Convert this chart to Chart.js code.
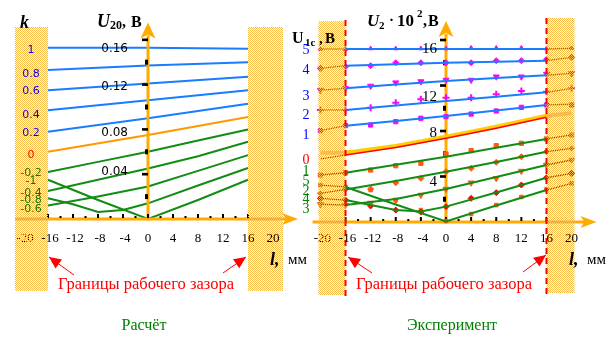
<!DOCTYPE html>
<html><head><meta charset="utf-8">
<script src="https://cdn.jsdelivr.net/npm/chart.js@4.4.1/dist/chart.umd.min.js"></script>
<style>
html,body{margin:0;padding:0;background:#fff;}
#wrap{position:relative;width:612px;height:345px;overflow:hidden;background:#fff;}
canvas{position:absolute;left:0;top:0;}
</style></head><body>
<div id="wrap"><canvas id="c1" width="612" height="345"></canvas><canvas id="c2" width="612" height="345"></canvas></div>
<script>
// ================= DATA =================
const xTicks = [-20,-16,-12,-8,-4,0,4,8,12,16,20];

// ---- left panel: calculation, U20 (V) vs l (mm) ----
const calcYTicks = [0.04, 0.08, 0.12, 0.16];
const calcYTickText = ['0.04','0.08','0.12','0.16'];
const calcK = ['1','0.8','0.6','0.4','0.2','0','-0.2','-1','-0.4','-0.8','-0.6'];
const X3 = [-16, 0, 16];
const X5 = [-16, -8, 0, 8, 16];
const X7 = [-16, -12, -8, -4, 0, 8, 16];
const calc_k1   = [0.153, 0.153, 0.152];
const calc_k08  = [0.133, 0.137, 0.140];
const calc_k06  = [0.115, 0.121, 0.127];
const calc_k04  = [0.097, 0.106, 0.115];
const calc_k02  = [0.078, 0.090, 0.103];
const calc_k0   = [0.060, 0.075, 0.091];
const calc_km02 = [0.042, 0.051, 0.060, 0.070, 0.080];
const calc_km04 = [0.025, 0.035, 0.045, 0.056, 0.069];
const calc_km06 = [0.012, 0.020, 0.029, 0.043, 0.057];
const calc_km08 = [0.0185, 0.0131, 0.0063, 0.0080, 0.0140, 0.0299, 0.0455];
const calc_km1  = [0.035, 0.017, 0.0, 0.017, 0.035];

// ---- right panel: experiment, U2*10^2 (V) vs l (mm) ----
const expYTicks = [4, 8, 12, 16];
const expYTickText = ['4','8','12','16'];
const expU1c = ['5','4','3','2','1','0','1','5','2','4','3'];
const RXL = [-20, -16, -8, 0, 8, 16, 20];
const RX4 = [-20, -16, -12, -8, -4, 0, 8, 16, 20];
const RXR = [-20, -16, -8, 0, 8, 16];
const exp_b5  = [15.21, 15.21, 15.21, 15.21, 15.21, 15.21, 15.27];
const exp_b4  = [13.51, 13.74, 13.87, 14.00, 14.09, 14.18, 14.48];
const exp_b3  = [11.60, 11.75, 12.08, 12.40, 12.65, 12.90, 13.07];
const exp_b2  = [9.85, 9.85, 10.25, 10.64, 11.02, 11.40, 11.75];
const exp_b1  = [8.03, 8.47, 8.88, 9.32, 9.80, 10.29, 10.35];
const exp_y0  = [6.09, 6.09, 6.68, 7.50, 8.38, 9.35, 9.56];
const exp_r0  = [5.54, 5.89, 6.55, 7.36, 8.25, 9.20];
const exp_g1  = [4.13, 4.33, 5.04, 5.74, 6.53, 7.30, 7.65];
const exp_g2  = [2.52, 2.86, 3.60, 4.42, 5.27, 6.18, 6.48];
const exp_g3  = [1.56, 1.49, 2.02, 2.90, 3.96, 5.01, 5.45];
const exp_g4  = [2.08, 1.93, 1.49, 1.05, 0.92, 1.35, 2.59, 3.89, 4.28];
const exp_g5  = [3.25, 3.08, 1.54, 0.05, 1.45, 2.81, 3.40];
// measured points at xTicks
const mk_b5 = [15.2, 15.2, 15.25, 15.25, 15.25, 15.25, 15.3, 15.3, 15.3, 15.25, 15.3];
const mk_b4 = [13.51, 13.65, 13.74, 14.0, 14.0, 14.0, 14.0, 14.18, 14.18, 14.3, 14.48];
const mk_b3 = [11.60, 11.75, 11.96, 12.25, 12.35, 12.48, 12.48, 12.77, 12.77, 13.01, 13.07];
const mk_b2 = [9.85, 9.85, 10.05, 10.49, 10.79, 10.93, 10.93, 11.23, 11.52, 11.45, 11.75];
const mk_b1 = [8.03, 8.47, 8.53, 8.82, 9.12, 9.26, 9.49, 9.76, 10.08, 10.29, 10.29];
const mk_g1 = [4.13, 4.33, 4.57, 4.95, 5.16, 5.98, 6.27, 6.71, 6.92, 7.30, 7.65];
const mk_g2 = [2.52, 2.90, 2.90, 3.45, 3.84, 4.42, 4.72, 5.25, 5.74, 6.18, 6.48];
const mk_g3 = [1.56, 1.49, 1.67, 1.93, 2.37, 2.90, 3.45, 3.84, 4.48, 5.01, 5.45];
const mk_g4 = [2.08, 1.93, 1.41, 1.05, 0.88, 1.35, 2.08, 2.58, 3.25, 3.89, 4.28];
const mk_g5 = [3.25, 3.08, 2.81, 1.93, 1.05, 0.09, 0.70, 1.49, 2.20, 2.87, 3.40];

// ---- texts ----
const gapText = 'Границы рабочего зазора';
const calcCaption = 'Расчёт';
const expCaption = 'Эксперимент';
const unitText = 'мм';

// ================= STYLE =================
const BLUE='#1a7cff', GREEN='#128c12', ORLINE='#ff9900', AXIS='#ffab00', MAG='#ff00ff',
      ORG='#ff5a14', RED='#ff0000', YEL='#ffcc00', BOXC='#f5bb4a';
const SERIF='"Liberation Serif","Times New Roman",serif';
const SANS='"DejaVu Sans","Liberation Sans",sans-serif';
const kLabelY = [50,74,91,115,133,155,173,181,193,200,209];
const u1cLabelY = [50,70,96,115,135,160,171,181,191,199,209];
const calcYLabDy = [-2, 3.5, 2.3, 9];
const expYLabDy = [5.5, 2, 12, 9.5];

function pts(xs, ys){ return xs.map((x,i)=>({x:x, y:ys[i]})); }
function lineDs(xs, ys, color, w){
  return {data: pts(xs,ys), borderColor: color, backgroundColor: color, borderWidth: w||2,
          pointRadius:0, fill:false, tension:0, clip:false};
}
function expLineDs(xs, ys, color, w, boxW){
  const d = lineDs(xs, ys, color, w);
  d.segment = {borderWidth: c => (c.p0.parsed.x < -16 || c.p1.parsed.x > 16) ? boxW : w};
  return d;
}
function mkDs(ys, style, color, r, rot, bw){
  return {data: pts(xTicks, ys), showLine:false, pointStyle: style, pointRadius: r,
          pointBackgroundColor: color, pointBorderColor: color, pointBorderWidth: bw||1,
          pointRotation: rot||0, clip:false};
}

function makePattern(ctx){
  const p = document.createElement('canvas'); p.width=2; p.height=2;
  const c = p.getContext('2d'); c.fillStyle=BOXC; c.fillRect(0,0,1,1); c.fillRect(1,1,1,1);
  return ctx.createPattern(p,'repeat');
}
function txt(ctx, s, x, y, font, color, align, base){
  ctx.font=font; ctx.fillStyle=color; ctx.textAlign=align||'left';
  ctx.textBaseline=base||'alphabetic'; ctx.fillText(s,x,y);
}
function arrowUp(ctx, x, yTip){
  ctx.beginPath(); ctx.moveTo(x,yTip); ctx.lineTo(x+7.5,yTip+16); ctx.lineTo(x,yTip+12);
  ctx.lineTo(x-7.5,yTip+16); ctx.closePath(); ctx.fill();
}
function arrowRight(ctx, xTip, y){
  ctx.beginPath(); ctx.moveTo(xTip,y); ctx.lineTo(xTip-16,y-6); ctx.lineTo(xTip-12,y);
  ctx.lineTo(xTip-16,y+6); ctx.closePath(); ctx.fill();
}
function redArrow(ctx, x1, y1, x2, y2){
  ctx.strokeStyle=RED; ctx.fillStyle=RED; ctx.lineWidth=1;
  ctx.beginPath(); ctx.moveTo(x1,y1); ctx.lineTo(x2,y2); ctx.stroke();
  const a=Math.atan2(y2-y1,x2-x1), L=12, W=5.5;
  const bx=x2-L*Math.cos(a), by=y2-L*Math.sin(a);
  ctx.beginPath(); ctx.moveTo(x2,y2);
  ctx.lineTo(bx+W*Math.sin(a), by-W*Math.cos(a));
  ctx.lineTo(bx-W*Math.sin(a), by+W*Math.cos(a)); ctx.closePath(); ctx.fill();
}
function drawAxes(ctx, sx, sy, dashTicks, tipVal){
  const x0=sx.getPixelForValue(0), y0=sy.getPixelForValue(0);
  const xl=sx.getPixelForValue(-16), xr=sx.getPixelForValue(16);
  ctx.strokeStyle=AXIS; ctx.fillStyle=AXIS; ctx.lineWidth=3;
  ctx.beginPath(); ctx.moveTo(xl-33,y0); ctx.lineTo(xr+42,y0); ctx.stroke();
  arrowRight(ctx, xr+50, y0);
  const yt=sy.getPixelForValue(tipVal);
  ctx.beginPath(); ctx.moveTo(x0,y0+1.5); ctx.lineTo(x0,yt+13); ctx.stroke();
  arrowUp(ctx, x0, yt);
  ctx.fillStyle='#000';
  dashTicks.forEach((v,i)=>{
    const py=sy.getPixelForValue(v);
    if(i%2===1) ctx.fillRect(x0-6,py-1.3,6,2.6); else ctx.fillRect(x0-3,py-2.5,3,5);
  });
  for(let m=-16;m<=16;m+=2){
    const px=sx.getPixelForValue(m);
    if(m%4===0) ctx.fillRect(px-1,y0-5,2,4); else ctx.fillRect(px-1,y0-3,2,2);
  }
}
function drawXLabels(ctx, sx, y, under){
  xTicks.forEach(v=>{
    if((v===-20)!==under) return;
    const px=sx.getPixelForValue(v)+(v<0?2:0);
    txt(ctx, String(v), px, y, '13px '+SERIF, '#000', 'center', 'middle');
  });
}
function drawBoxes(ctx, sx, topL, botL, topR, botR, wl, wr){
  const xl=sx.getPixelForValue(-16), xr=sx.getPixelForValue(16);
  ctx.fillStyle=makePattern(ctx);
  ctx.fillRect(xl-wl, topL, wl, botL-topL);
  ctx.fillRect(xr, topR, wr, botR-topR);
}

// ================= LEFT: calculation =================
const calcDecor = {
  id:'calcDecor',
  afterDatasetsDraw(chart){
    const ctx=chart.ctx, sx=chart.scales.x, sy=chart.scales.y;
    const x0=sx.getPixelForValue(0);
    ctx.save();
    drawAxes(ctx, sx, sy, [0.02,0.04,0.06,0.08,0.10,0.12,0.14,0.16], 0.1755);
    drawXLabels(ctx, sx, 239, true);
    drawBoxes(ctx, sx, 27, 291, 27, 291, 33, 35);
    drawXLabels(ctx, sx, 239, false);
    calcYTicks.forEach((v,i)=>{
      txt(ctx, calcYTickText[i], x0-20, sy.getPixelForValue(v)+calcYLabDy[i], '12px '+SANS, '#000', 'right', 'middle');
    });
    calcK.forEach((s,i)=>{
      const col = i<5 ? '#0000ff' : (i===5 ? RED : '#008000');
      txt(ctx, s, 31, kLabelY[i], '11px '+SANS, col, 'center', 'middle');
    });
    txt(ctx, 'k', 20, 28, 'bold italic 18px '+SERIF, '#000');
    txt(ctx, 'U', 97, 27, 'bold italic 18px '+SERIF, '#000');
    txt(ctx, '20', 110, 29, 'bold 12px '+SERIF, '#000');
    txt(ctx, ',', 122, 27, 'bold 16px '+SERIF, '#000');
    txt(ctx, 'В', 131, 27, 'bold 16px '+SERIF, '#000');
    txt(ctx, 'l,', 270, 265, 'bold italic 18px '+SERIF, '#000');
    txt(ctx, unitText, 288, 264, '15px '+SERIF, '#000');
    redArrow(ctx, 74, 275, 49, 257);
    redArrow(ctx, 223, 273, 246, 257);
    txt(ctx, gapText, 146, 289, '16.5px '+SERIF, RED, 'center');
    txt(ctx, calcCaption, 144, 330, '16px '+SERIF, '#008000', 'center');
    ctx.restore();
  }
};

new Chart(document.getElementById('c1'), {
  type:'line',
  data:{datasets:[
    lineDs(X3, calc_k1, BLUE), lineDs(X3, calc_k08, BLUE), lineDs(X3, calc_k06, BLUE),
    lineDs(X3, calc_k04, BLUE), lineDs(X3, calc_k02, BLUE), lineDs(X3, calc_k0, ORLINE),
    lineDs(X5, calc_km02, GREEN), lineDs(X5, calc_km04, GREEN), lineDs(X5, calc_km06, GREEN),
    lineDs(X7, calc_km08, GREEN), lineDs(X5, calc_km1, GREEN)
  ]},
  options:{
    responsive:false, animation:false, devicePixelRatio:1, events:[],
    layout:{padding:{left:23, right:339, top:17.4, bottom:126}},
    plugins:{legend:{display:false}, tooltip:{enabled:false}},
    scales:{
      x:{type:'linear', min:-20, max:20, display:false},
      y:{type:'linear', min:0, max:0.18, display:false}
    }
  },
  plugins:[calcDecor]
});

// ================= RIGHT: experiment =================
const expBefore = {
  id:'expBefore',
  beforeDatasetsDraw(chart){
    const ctx=chart.ctx, sx=chart.scales.x, sy=chart.scales.y;
    ctx.save();
    drawAxes(ctx, sx, sy, [2,4,6,8,10,12,14,16], 17.67);
    drawXLabels(ctx, sx, 239, true);
    ctx.restore();
  },
  afterDatasetsDraw(chart){
    const ctx=chart.ctx, sx=chart.scales.x, sy=chart.scales.y;
    const x0=sx.getPixelForValue(0);
    const xl=sx.getPixelForValue(-16), xr=sx.getPixelForValue(16);
    ctx.save();
    drawBoxes(ctx, sx, 21, 295, 18, 293, 27, 28);
    ctx.strokeStyle=RED; ctx.lineWidth=2; ctx.setLineDash([6,4]);
    ctx.beginPath(); ctx.moveTo(xl,20); ctx.lineTo(xl,300); ctx.stroke();
    ctx.beginPath(); ctx.moveTo(xr,18); ctx.lineTo(xr,298); ctx.stroke();
    ctx.setLineDash([]);
    drawXLabels(ctx, sx, 239, false);
    expYTicks.forEach((v,i)=>{
      txt(ctx, expYTickText[i], x0-9, sy.getPixelForValue(v)+expYLabDy[i], '15px '+SERIF, '#000', 'right', 'middle');
    });
    expU1c.forEach((s,i)=>{
      const col = i<5 ? '#0000ff' : (i===5 ? RED : '#008000');
      txt(ctx, s, 306, u1cLabelY[i], '14px '+SERIF, col, 'center', 'middle');
    });
    txt(ctx, 'U', 292, 43, 'bold 16px '+SERIF, '#000');
    txt(ctx, '1c', 305, 46, 'bold 11px '+SERIF, '#000');
    txt(ctx, ',', 319, 43, 'bold 15px '+SERIF, '#000');
    txt(ctx, 'В', 325, 43, 'bold 15px '+SERIF, '#000');
    txt(ctx, 'U', 367, 26, 'bold italic 17px '+SERIF, '#000');
    txt(ctx, '2', 379, 29, 'bold 11px '+SERIF, '#000');
    txt(ctx, '·', 389, 25, 'bold 15px '+SERIF, '#000');
    txt(ctx, '10', 397, 26, 'bold 17px '+SERIF, '#000');
    txt(ctx, '2', 417, 17, 'bold 11px '+SERIF, '#000');
    txt(ctx, ',', 423, 26, 'bold 16px '+SERIF, '#000');
    txt(ctx, 'В', 428, 26, 'bold 16px '+SERIF, '#000');
    txt(ctx, 'l,', 569, 265, 'bold italic 18px '+SERIF, '#000');
    txt(ctx, unitText, 587, 264, '15px '+SERIF, '#000');
    redArrow(ctx, 372, 273, 348, 257);
    redArrow(ctx, 523, 272, 546, 255);
    txt(ctx, gapText, 444, 289, '16.5px '+SERIF, RED, 'center');
    txt(ctx, expCaption, 452, 330, '16px '+SERIF, '#008000', 'center');
    ctx.restore();
  }
};

new Chart(document.getElementById('c2'), {
  type:'line',
  data:{datasets:[
    expLineDs(RXL, exp_b5, BLUE, 2, 1.3), expLineDs(RXL, exp_b4, BLUE, 2, 1.3),
    expLineDs(RXL, exp_b3, BLUE, 2, 1.3), expLineDs(RXL, exp_b2, BLUE, 2, 1.3),
    expLineDs(RXL, exp_b1, BLUE, 2, 1.3),
    expLineDs(RXR, exp_r0, RED, 1.5, 1.2), expLineDs(RXL, exp_y0, YEL, 4, 4),
    expLineDs(RXL, exp_g1, GREEN, 2, 1.3), expLineDs(RXL, exp_g2, GREEN, 2, 1.3),
    expLineDs(RXL, exp_g3, GREEN, 2, 1.3), expLineDs(RX4, exp_g4, GREEN, 2, 1.3),
    expLineDs(RXL, exp_g5, GREEN, 2, 1.3),
    mkDs(mk_b5, 'triangle', MAG, 2.5), mkDs(mk_b4, 'rectRot', MAG, 3),
    mkDs(mk_b3, 'triangle', MAG, 3.5, 180), mkDs(mk_b2, 'cross', MAG, 3.5, 0, 2),
    mkDs(mk_b1, 'rect', MAG, 3),
    mkDs(mk_g1, 'rect', ORG, 3), mkDs(mk_g2, 'rectRot', ORG, 3),
    mkDs(mk_g3, 'triangle', ORG, 3.5, 180), mkDs(mk_g4, 'rectRot', RED, 3),
    mkDs(mk_g5, 'rect', ORG, 2.5)
  ]},
  options:{
    responsive:false, animation:false, devicePixelRatio:1, events:[],
    layout:{padding:{left:320.4, right:40.4, top:17.25, bottom:123}},
    plugins:{legend:{display:false}, tooltip:{enabled:false}},
    scales:{
      x:{type:'linear', min:-20, max:20, display:false},
      y:{type:'linear', min:0, max:18, display:false}
    }
  },
  plugins:[expBefore]
});
</script>
</body></html>
